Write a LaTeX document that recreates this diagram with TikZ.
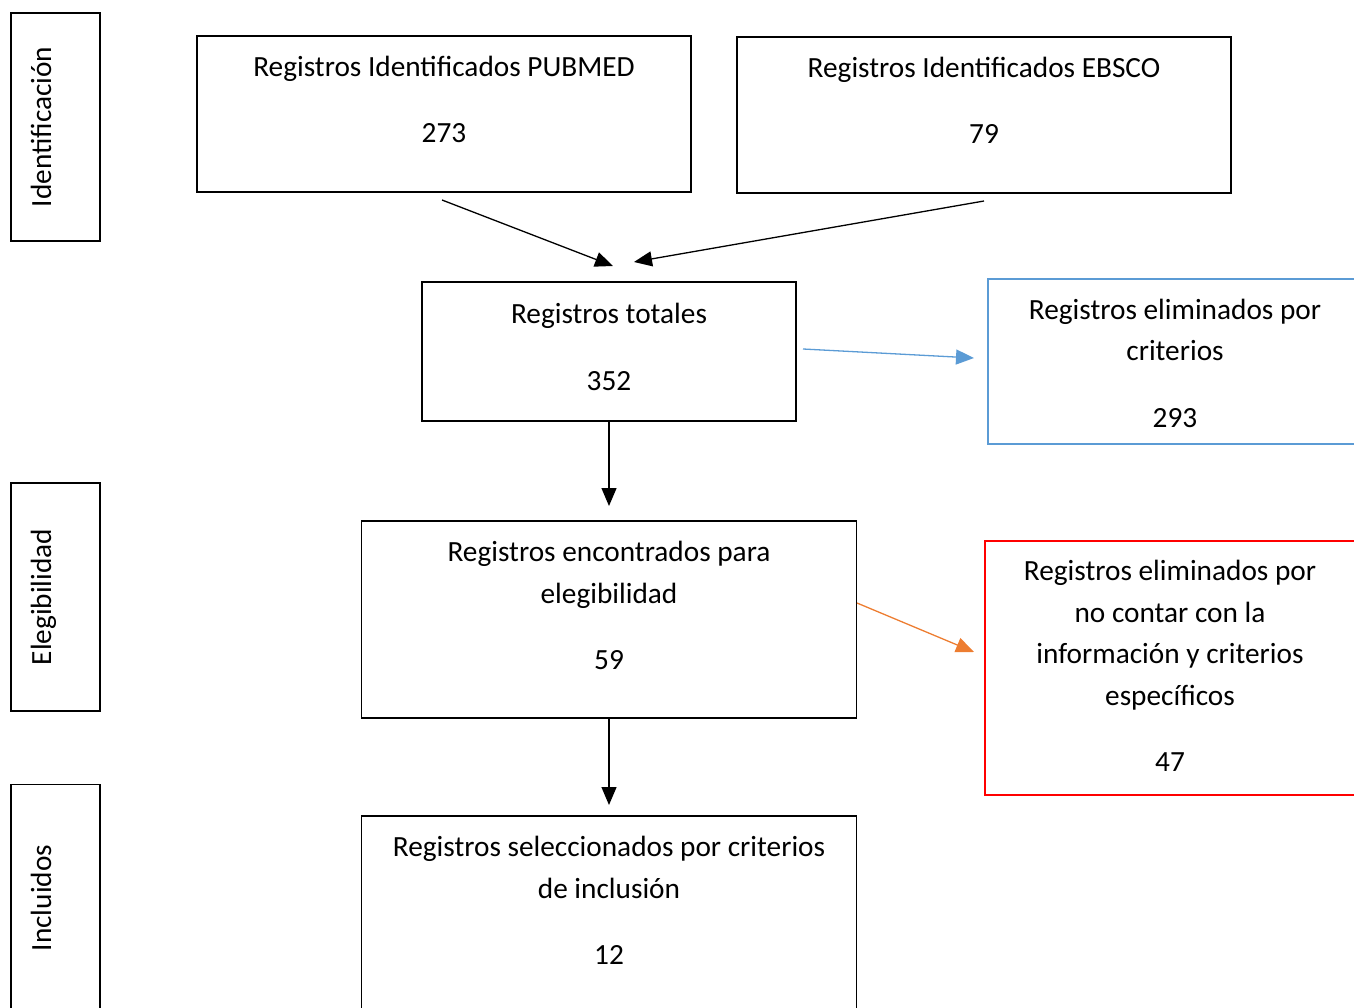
\documentclass[tikz,border=0pt]{standalone}
\usepackage{fontspec}
\setmainfont{Carlito}
\usetikzlibrary{arrows.meta,positioning}
\definecolor{azulw}{RGB}{91,155,213}
\definecolor{naranjaw}{RGB}{237,125,49}
\tikzset{
  caja/.style={draw=black, line width=1.8pt, inner sep=0pt},
  texto/.style={anchor=base, align=center, inner sep=0pt, font=\fontsize{29.3}{41.5}\selectfont},
  lado/.style={rotate=90, anchor=base, inner sep=0pt, font=\fontsize{29.3}{42}\selectfont},
  flecha/.style={line width=1.3pt, -{Triangle[length=18pt,width=15pt]}}
}
\begin{document}
\begin{tikzpicture}[x=1pt, y=-1pt]
                \useasboundingbox (0,0) rectangle (1354,1008);
                % Etapas
                \node[caja, minimum width=89, minimum height=228] (ident) at (55.5,127) {};
                \node[lado] (identT) at (51,127) {Identificación};
                \node[caja, minimum width=89, minimum height=228] (eleg) at (55.5,597) {};
                \node[lado] (elegT) at (51,597) {Elegibilidad};
                \node[caja, minimum width=89, minimum height=245] (incl) at (55.5,907) {};
                \node[lado] (inclT) at (51,898) {Incluidos};
                % Cajas principales (el texto se ancla en la linea del numero)
                \node[caja, minimum width=494, minimum height=156] (pubmed) at (444,114) {};
                \node[texto] (pubmedT) at (444,143) {Registros Identificados PUBMED\\[25pt]273};
                \node[caja, minimum width=494, minimum height=156] (ebsco) at (984,115) {};
                \node[texto] (ebscoT) at (984,144) {Registros Identificados EBSCO\\[25pt]79};
                \node[caja, minimum width=374, minimum height=139] (totales) at (609,351.5) {};
                \node[texto] (totalesT) at (609,390) {Registros totales\\[25pt]352};
                \node[caja, minimum width=495, minimum height=197] (encont) at (609,619.5) {};
                \node[texto] (encontT) at (609,669.5) {Registros encontrados para\\elegibilidad\\[25pt]59};
                \node[caja, minimum width=495, minimum height=214] (selec) at (609,923) {};
                \node[texto] (selecT) at (609,964.5) {Registros seleccionados por criterios\\de inclusión\\[25pt]12};
                % Cajas de eliminados
                \node[caja, draw=azulw, minimum width=374, minimum height=165] (elim1) at (1175,361.5) {};
                \node[texto] (elim1T) at (1175,427) {Registros eliminados por\\criterios\\[25pt]293};
                \node[caja, draw=red, minimum width=374, minimum height=254] (elim2) at (1172,668) {};
                \node[texto] (elim2T) at (1170,771.5) {Registros eliminados por\\no contar con la\\información y criterios\\específicos\\[25pt]47};
                % Extremos de las flechas
                \coordinate (pubOut) at (442,200);
                \coordinate (pubIn) at (613,266);
                \coordinate (ebOut) at (984,201);
                \coordinate (ebIn) at (634,262);
                \coordinate (totIn) at (609,506);
                \coordinate (selIn) at (609,805);
                \coordinate (azOut) at (803,349);
                \coordinate (azIn) at (974,358);
                \coordinate (naOut) at (857,603);
                \coordinate (naIn) at (974,652);
                % Flechas
                \draw[flecha] (pubOut) -- (pubIn);
                \draw[flecha] (ebOut) -- (ebIn);
                \draw[flecha] (totales.south) -- (totIn);
                \draw[flecha] (encont.south) -- (selIn);
                \draw[flecha, azulw] (azOut) -- (azIn);
                \draw[flecha, naranjaw] (naOut) -- (naIn);
\end{tikzpicture}
\end{document}
